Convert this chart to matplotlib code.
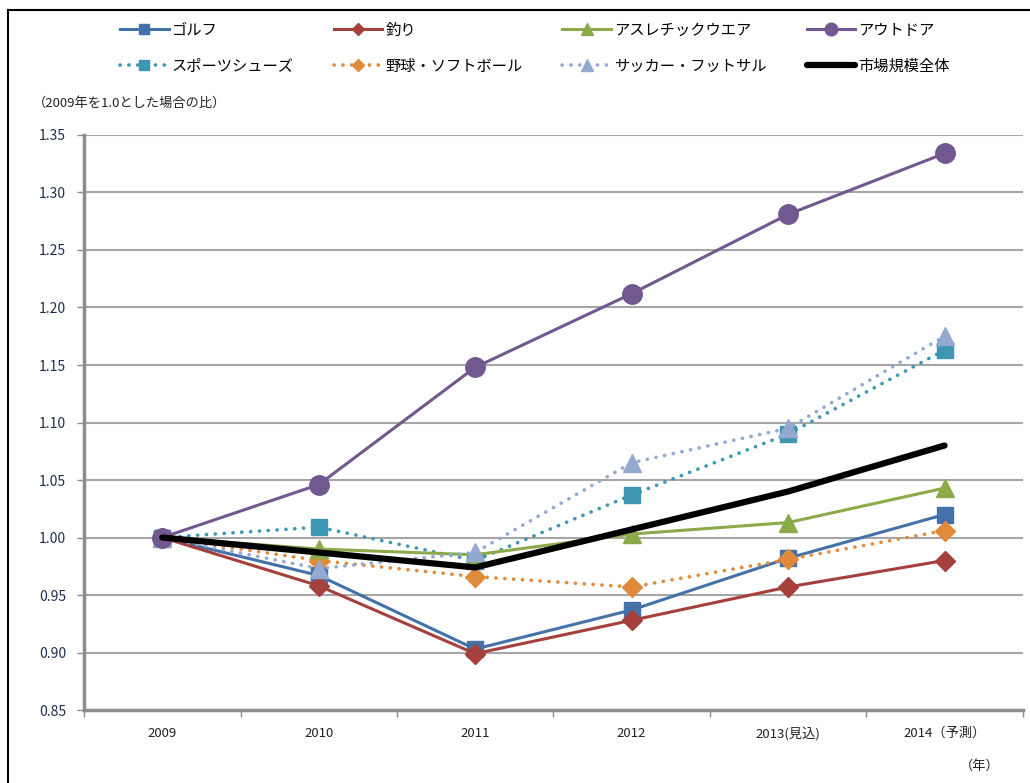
import matplotlib.pyplot as plt
from matplotlib.lines import Line2D
import numpy as np

plt.rcParams['font.family'] = ['Noto Sans CJK JP', 'DejaVu Sans']

years = ['2009', '2010', '2011', '2012', '2013(見込)', '2014（予測）']

golf = [1.000, 0.967, 0.903, 0.937, 0.982, 1.020]
fishing = [1.000, 0.958, 0.899, 0.928, 0.957, 0.980]
athletic = [1.000, 0.990, 0.985, 1.003, 1.013, 1.043]
outdoor = [1.000, 1.046, 1.148, 1.212, 1.281, 1.334]
shoes = [1.000, 1.009, 0.980, 1.037, 1.090, 1.163]
baseball = [1.000, 0.980, 0.966, 0.957, 0.981, 1.006]
soccer = [1.000, 0.973, 0.987, 1.065, 1.095, 1.175]
market = [1.000, 0.987, 0.974, 1.007, 1.040, 1.080]

series = [
    ('ゴルフ', golf, '#4472A8', 's', '-', 12),
    ('スポーツシューズ', shoes, '#3E97B2', 's', ':', 12),
    ('釣り', fishing, '#A5403C', 'D', '-', 10),
    ('野球・ソフトボール', baseball, '#E08A3C', 'D', ':', 10),
    ('アスレチックウエア', athletic, '#8BAA4A', '^', '-', 13),
    ('サッカー・フットサル', soccer, '#94A9CF', '^', ':', 13),
    ('アウトドア', outdoor, '#71588F', 'o', '-', 14),
    ('市場規模全体', market, 'black', None, '-', 0),
]

fig = plt.figure(figsize=(10.30, 7.83), dpi=100)
ax = fig.add_axes([0.0816, 0.0932, 0.9114, 0.7344])

x = np.arange(len(years))
handles = []
for label, vals, color, marker, ls, ms in series:
    if marker is None:
        h, = ax.plot(x, vals, color=color, lw=4.5, ls='-', solid_capstyle='round',
                     zorder=5, label=label)
    elif ls == ':':
        h, = ax.plot(x, vals, color=color, lw=2.6, ls=(0, (0.05, 2.4)),
                     dash_capstyle='round', marker=marker, ms=ms,
                     markeredgecolor=color, zorder=3, label=label)
    else:
        h, = ax.plot(x, vals, color=color, lw=2.2, marker=marker, ms=ms,
                     markeredgecolor=color, zorder=3, label=label)
    handles.append(h)

ax.set_xlim(-0.5, 5.5)
ax.set_ylim(0.85, 1.35)
yt = np.arange(0.85, 1.351, 0.05)
ax.set_yticks(yt)
ax.set_yticklabels([f'{v:.2f}' for v in yt])
ax.set_xticks(x)
ax.set_xticklabels(years)
ax.set_xticks(np.arange(-0.5, 5.6, 1.0), minor=True)
ax.tick_params(axis='x', which='major', length=0, pad=12, labelsize=9.5, labelcolor='#222222')
ax.tick_params(axis='x', which='minor', length=5, color='#8C8C8C', width=1)
ax.tick_params(axis='y', length=5, color='#8C8C8C', width=1, labelsize=10,
               labelcolor='#1F2F4F', pad=8)

ax.grid(axis='y', color='#A6A6A6', lw=1.5)
ax.set_axisbelow(True)
for s in ['top', 'right']:
    ax.spines[s].set_visible(False)
for s in ['left', 'bottom']:
    ax.spines[s].set_color('#8C8C8C')
    ax.spines[s].set_linewidth(2.5)

fig.legend(handles=handles, loc='upper left', bbox_to_anchor=(0.103, 0.99),
           ncol=4, frameon=False, fontsize=11, handlelength=3.2,
           handletextpad=0.2, columnspacing=2.6, labelspacing=1.25,
           markerscale=0.65)

fig.text(0.032, 0.868, '（2009年を1.0とした場合の比）', fontsize=9.5, va='center',
         color='#222222')
fig.text(0.951, 0.021, '（年）', fontsize=9.5, ha='center', va='center',
         color='#222222')

# outer frame (left and top edges)
fig.add_artist(Line2D([0.008, 0.008], [0.0, 0.987], transform=fig.transFigure,
                      color='black', lw=1.5))
fig.add_artist(Line2D([0.008, 1.0], [0.987, 0.987], transform=fig.transFigure,
                      color='black', lw=1.5))

fig.savefig('out.png', dpi=100)
